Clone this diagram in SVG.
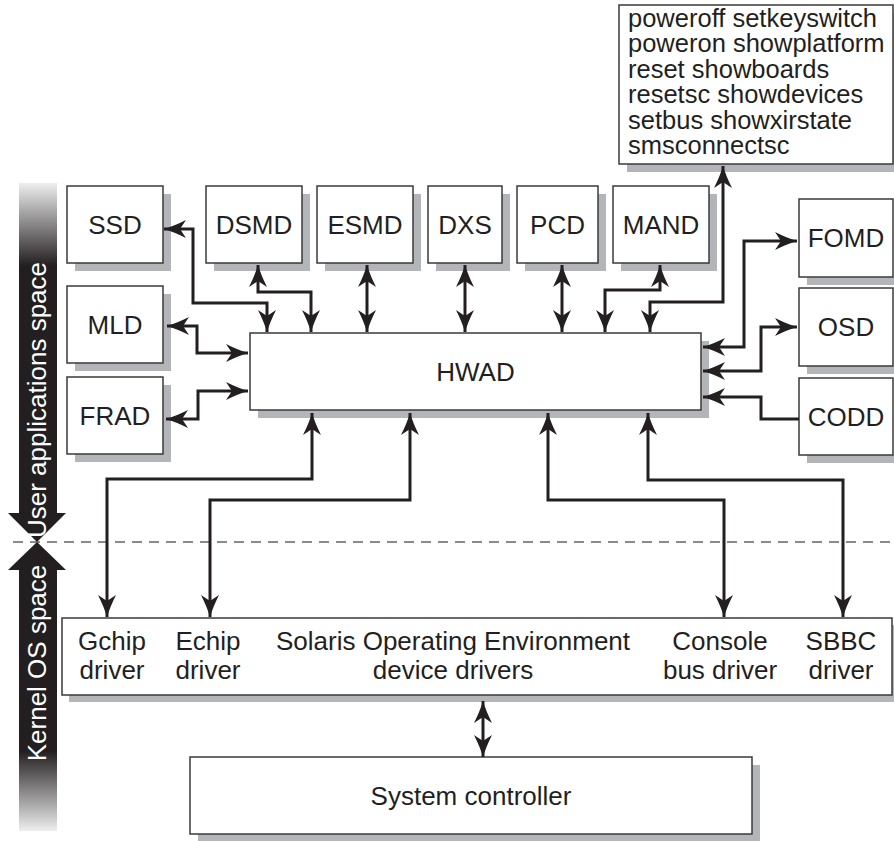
<svg xmlns="http://www.w3.org/2000/svg" width="894" height="841" viewBox="0 0 894 841">
<style>
.bx{fill:#ffffff;stroke:#3a3a3a;stroke-width:1.5}
.sh{fill:#b3b5b8;stroke:none}
.t{font-family:"Liberation Sans",Arial,sans-serif;font-size:26px;fill:#231f20;text-anchor:middle}
.tl{font-family:"Liberation Sans",Arial,sans-serif;font-size:25.5px;fill:#231f20}
.w{font-family:"Liberation Sans",Arial,sans-serif;font-size:26px;fill:#fff;text-anchor:middle}
.c{fill:none;stroke:#231f20;stroke-width:3}
.a{marker-end:url(#ah)}
.b{marker-start:url(#ah);marker-end:url(#ah)}
</style>
<defs>
<marker id="ah" markerUnits="userSpaceOnUse" markerWidth="24" markerHeight="20" refX="22" refY="9" orient="auto-start-reverse" overflow="visible">
<path d="M22,9 Q12,6 0,0 L6,9 L0,18 Q12,12 22,9 Z" fill="#231f20"/>
</marker>
<linearGradient id="gu" gradientUnits="userSpaceOnUse" x1="0" y1="183" x2="0" y2="266">
<stop offset="0" stop-color="#eeeeee"/>
<stop offset="1" stop-color="#231f20"/>
</linearGradient>
<linearGradient id="gd" gradientUnits="userSpaceOnUse" x1="0" y1="831" x2="0" y2="751">
<stop offset="0" stop-color="#eeeeee"/>
<stop offset="1" stop-color="#231f20"/>
</linearGradient>
</defs>

<!-- space divider -->
<g id="divider">
<line x1="13" y1="542" x2="894" y2="542" stroke="#8a8a8a" stroke-width="2" stroke-dasharray="10 7"/>
</g>

<!-- side bar -->
<g id="user-space">
<rect x="19" y="183" width="38" height="331" fill="url(#gu)"/>
<polygon points="8,513 66,513 37,542" fill="#231f20"/>
<text class="w" transform="translate(46,400) rotate(-90)">User applications space</text>
</g>
<g id="kernel-space">
<rect x="19" y="569" width="38" height="262" fill="url(#gd)"/>
<polygon points="8,570 66,570 37,542" fill="#231f20"/>
<text class="w" transform="translate(46,663) rotate(-90)">Kernel OS space</text>
</g>

<!-- nodes -->
<g id="commands">
<path class="sh" d="M627,164 H893 V13 H901 V172 H627 Z"/>
<rect class="bx" x="619" y="5" width="274" height="159"/>
<text class="tl" x="628" y="26.5">poweroff setkeyswitch</text>
<text class="tl" x="628" y="52">poweron showplatform</text>
<text class="tl" x="628" y="77.5">reset showboards</text>
<text class="tl" x="628" y="103">resetsc showdevices</text>
<text class="tl" x="628" y="128.5">setbus showxirstate</text>
<text class="tl" x="628" y="154">smsconnectsc</text>
</g>
<g id="SSD">
<path class="sh" d="M75,263 H163 V194 H171 V271 H75 Z"/>
<rect class="bx" x="67" y="186" width="96" height="77"/>
<text class="t" x="115" y="234">SSD</text>
</g>
<g id="DSMD">
<path class="sh" d="M214,263 H302 V194 H310 V271 H214 Z"/>
<rect class="bx" x="206" y="186" width="96" height="77"/>
<text class="t" x="254" y="234">DSMD</text>
</g>
<g id="ESMD">
<path class="sh" d="M325,263 H413 V194 H421 V271 H325 Z"/>
<rect class="bx" x="317" y="186" width="96" height="77"/>
<text class="t" x="365" y="234">ESMD</text>
</g>
<g id="DXS">
<path class="sh" d="M436,263 H502 V194 H510 V271 H436 Z"/>
<rect class="bx" x="428" y="186" width="74" height="77"/>
<text class="t" x="465" y="234">DXS</text>
</g>
<g id="PCD">
<path class="sh" d="M525,263 H598 V194 H606 V271 H525 Z"/>
<rect class="bx" x="517" y="186" width="81" height="77"/>
<text class="t" x="557.5" y="234">PCD</text>
</g>
<g id="MAND">
<path class="sh" d="M621,263 H709 V194 H717 V271 H621 Z"/>
<rect class="bx" x="613" y="186" width="96" height="77"/>
<text class="t" x="661" y="234">MAND</text>
</g>
<g id="MLD">
<path class="sh" d="M75,363 H163 V294 H171 V371 H75 Z"/>
<rect class="bx" x="67" y="286" width="96" height="77"/>
<text class="t" x="115" y="334">MLD</text>
</g>
<g id="FRAD">
<path class="sh" d="M75,454 H163 V385 H171 V462 H75 Z"/>
<rect class="bx" x="67" y="377" width="96" height="77"/>
<text class="t" x="115" y="425">FRAD</text>
</g>
<g id="HWAD">
<path class="sh" d="M258,410 H701 V341 H709 V418 H258 Z"/>
<rect class="bx" x="250" y="333" width="451" height="77"/>
<text class="t" x="475.5" y="381">HWAD</text>
</g>
<g id="FOMD">
<path class="sh" d="M807,277 H894 V285 H807 Z"/>
<rect class="bx" x="799" y="199" width="94" height="78"/>
<text class="t" x="846" y="247">FOMD</text>
</g>
<g id="OSD">
<path class="sh" d="M807,366 H894 V374 H807 Z"/>
<rect class="bx" x="799" y="288" width="94" height="78"/>
<text class="t" x="846" y="336">OSD</text>
</g>
<g id="CODD">
<path class="sh" d="M807,455 H894 V463 H807 Z"/>
<rect class="bx" x="799" y="378" width="94" height="77"/>
<text class="t" x="846" y="426">CODD</text>
</g>
<g id="drivers">
<path class="sh" d="M69,695 H892 V625 H899 V702 H69 Z"/>
<rect class="bx" x="62" y="618" width="830" height="77"/>
<text class="t" x="112" y="650">Gchip</text>
<text class="t" x="112" y="679">driver</text>
<text class="t" x="208" y="650">Echip</text>
<text class="t" x="208" y="679">driver</text>
<text class="t" x="453" y="650">Solaris Operating Environment</text>
<text class="t" x="453" y="679">device drivers</text>
<text class="t" x="720" y="650">Console</text>
<text class="t" x="720" y="679">bus driver</text>
<text class="t" x="841" y="650">SBBC</text>
<text class="t" x="841" y="679">driver</text>
</g>
<g id="system-controller">
<path class="sh" d="M198,834 H752 V765 H760 V842 H198 Z"/>
<rect class="bx" x="190" y="757" width="562" height="77"/>
<text class="t" x="471" y="805">System controller</text>
</g>

<!-- connectors -->
<g id="connectors">
<path class="c b" d="M164,229 H193 V303 H267 V332"/>
<path class="c b" d="M258,265 V292 H311 V332"/>
<path class="c b" d="M367,265 V332"/>
<path class="c b" d="M465,265 V332"/>
<path class="c b" d="M562,265 V332"/>
<path class="c b" d="M660,265 V290 H605 V332"/>
<path class="c b" d="M650,332 V302 H723 V166"/>
<path class="c b" d="M703,347 H744 V241 H797"/>
<path class="c b" d="M703,371 H761 V327 H797"/>
<path class="c a" d="M799,419 H761 V397 H703"/>
<path class="c b" d="M167,326 H197 V353 H248"/>
<path class="c b" d="M166,419 H198 V391 H248"/>
<path class="c b" d="M312,413 V479 H107 V617"/>
<path class="c b" d="M410,413 V500 H210 V617"/>
<path class="c b" d="M548,413 V500 H724 V617"/>
<path class="c b" d="M648,413 V480 H843 V617"/>
<path class="c b" d="M483,701 V757"/>
</g>
</svg>
